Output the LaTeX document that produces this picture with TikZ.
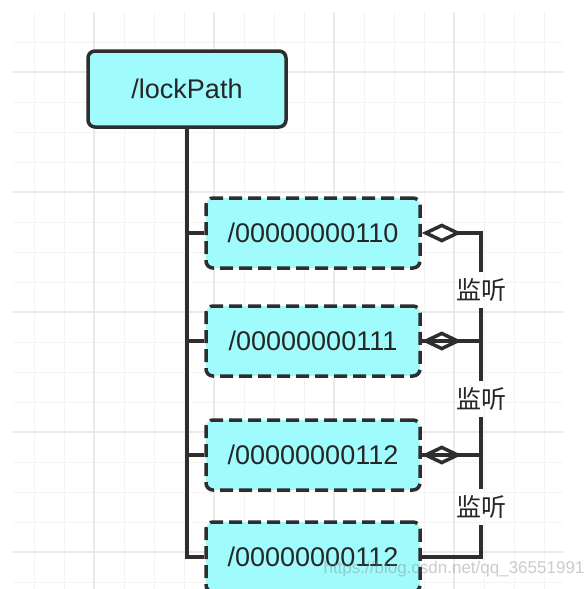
\documentclass[tikz,border=0pt]{standalone}
\usepackage{fontspec}
\setmainfont{Liberation Sans}
\newfontfamily\cjk{Noto Sans CJK SC}
\usetikzlibrary{arrows.meta}
\definecolor{boxfill}{HTML}{A0FCFC}
\definecolor{boxline}{HTML}{2E2E2E}
\definecolor{gridthin}{HTML}{F4F4F4}
\definecolor{gridthick}{HTML}{EAEAEA}
\tikzset{
  pathbox/.style={draw=boxline, fill=boxfill, line width=3.5pt, rounded corners=7pt,
    minimum width=198pt, minimum height=76pt, text=black!85,
    font=\fontsize{27}{30}\selectfont},
  lockbox/.style={pathbox, dash pattern=on 13pt off 6pt,
    minimum width=214pt, minimum height=70pt},
  watch/.style={font=\cjk\fontsize{25}{28}\selectfont, inner sep=0pt,
    minimum height=36pt, text=black!85},
  link/.style={boxline, line width=3.5pt},
  hollow/.style={{Diamond[open,length=40pt,width=19pt]}-}
}

\begin{document}
\begin{tikzpicture}[x=1pt,y=-1pt]
    \useasboundingbox (0,0) rectangle (584,589);
    \fill[white] (0,0) rectangle (584,589);
    % grid
    \foreach \x in {34,64,...,544} \draw[gridthin, line width=1pt] (\x,12) -- (\x,589);
    \foreach \y in {42,72,...,582} \draw[gridthin, line width=1pt] (13,\y) -- (563,\y);
    \foreach \x in {94,214,334,454} \draw[gridthick, line width=1.4pt] (\x,12) -- (\x,589);
    \foreach \y in {72,192,312,432,552} \draw[gridthick, line width=1.4pt] (13,\y) -- (563,\y);

    \node[pathbox] (root) at (187,89) {/lockPath};
    \node[lockbox] (n110) at (313,233) {/00000000110};
    \node[lockbox] (n111) at (313,341) {/00000000111};
    \node[lockbox] (n112) at (313,455) {/00000000112};
    \node[lockbox] (n112b) at (313,557) {/00000000112};

    \draw[link] (root.south) |- (n112b.west);
    \foreach \n in {n110,n111,n112} \draw[link] (root.south |- \n.west) -- (\n.west);

    \node[watch] (w1) at (481,290) {监听};
    \node[watch] (w2) at (481,399) {监听};
    \node[watch] (w3) at (481,507) {监听};

    \draw[link, hollow] (n110.east) -| (w1.north);
    \draw[link] (w1.south) -- (w2.north);
    \draw[link] (w2.south) -- (w3.north);
    \draw[link] (w3.south) |- (n112b.east);
    \foreach \n in {n111,n112} {
        \draw[link, hollow] (\n.east) -- (\n.east -| w1.south);
        \draw[link] (\n.east) -- (\n.east -| w1.south);
    }

    \node[gray, opacity=0.4, font=\fontsize{17}{20}\selectfont] (mark) at (454,569) {https://blog.csdn.net/qq\_36551991};
\end{tikzpicture}
\end{document}
